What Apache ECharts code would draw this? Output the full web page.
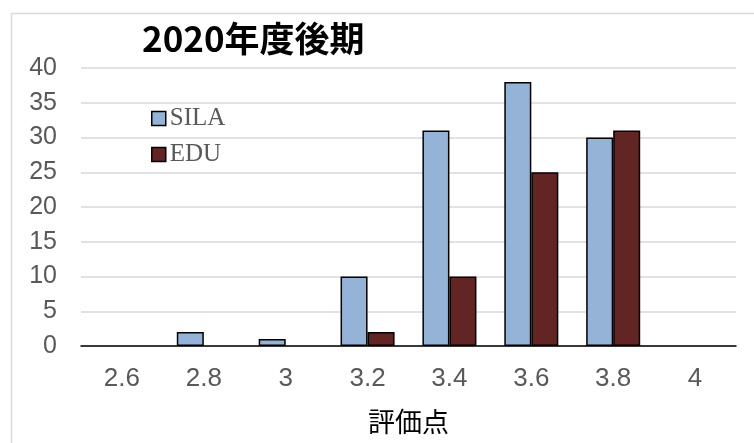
<!DOCTYPE html>
<html><head><meta charset="utf-8">
<script src="https://cdn.jsdelivr.net/npm/echarts@6/dist/echarts.min.js"></script>
<style>html,body{margin:0;padding:0;background:#fff}#c{width:754px;height:443px}</style>
</head><body><div id="c"></div>
<script>
const categories = ['2.6','2.8','3','3.2','3.4','3.6','3.8','4'];
const silaValues = [0, 2, 1, 10, 31, 38, 30, 0];
const eduValues = [0, 0, 0, 2, 10, 25, 31, 0];
const yTicks = {min: 0, max: 40, interval: 5};
const titleText = '2020年度後期';
const xAxisName = '評価点';

// zero-height bars are not drawn in the reference
const hideZero = arr => arr.map(v => (v === 0 ? '-' : v));

const chart = echarts.init(document.getElementById('c'), null, {renderer: 'canvas'});
chart.setOption({
  animation: false,
  backgroundColor: '#fff',
  graphic: [{
    type: 'rect', left: 9, top: 11, z: -1,
    shape: {x: 0, y: 0, width: 800, height: 500},
    style: {fill: 'none', stroke: '#d9d9d9', lineWidth: 1.5}
  }],
  title: {
    text: titleText, left: 137, top: 16,
    textStyle: {fontFamily: 'Noto Sans CJK JP', fontWeight: 'bold', fontSize: 35, color: '#000'}
  },
  legend: {
    orient: 'vertical', left: 146, top: 101,
    itemWidth: 14, itemHeight: 14, itemGap: 11,
    icon: 'rect',
    itemStyle: {borderColor: '#000', borderWidth: 1.5},
    textStyle: {fontFamily: 'Liberation Serif', fontSize: 25, color: '#595959', padding: [0,0,0,-1]},
    data: ['SILA', 'EDU']
  },
  grid: {left: 81, right: 18, top: 68, bottom: 97, containLabel: false, outerBoundsMode: 'none'},
  xAxis: {
    type: 'category', data: categories,
    name: xAxisName, nameLocation: 'middle', nameGap: 62,
    nameTextStyle: {fontFamily: 'Noto Sans CJK JP', fontSize: 27, color: '#000'},
    axisTick: {show: false},
    axisLine: {lineStyle: {color: '#000', width: 1.5}},
    axisLabel: {fontFamily: 'Liberation Sans', fontSize: 26, color: '#595959', margin: 20}
  },
  yAxis: {
    type: 'value', min: yTicks.min, max: yTicks.max, interval: yTicks.interval,
    axisLine: {show: false}, axisTick: {show: false},
    splitLine: {lineStyle: {color: '#d9d9d9', width: 1.5}},
    axisLabel: {fontFamily: 'Liberation Sans', fontSize: 25, color: '#595959', margin: 24}
  },
  series: [
    {name: 'SILA', type: 'bar', data: hideZero(silaValues), barWidth: '33%', barGap: '0%',
     itemStyle: {color: '#95b3d7', borderColor: '#000', borderWidth: 1.5}},
    {name: 'EDU', type: 'bar', data: hideZero(eduValues), barWidth: '33%', barGap: '0%',
     itemStyle: {color: '#632523', borderColor: '#000', borderWidth: 1.5}}
  ]
});
</script></body></html>
